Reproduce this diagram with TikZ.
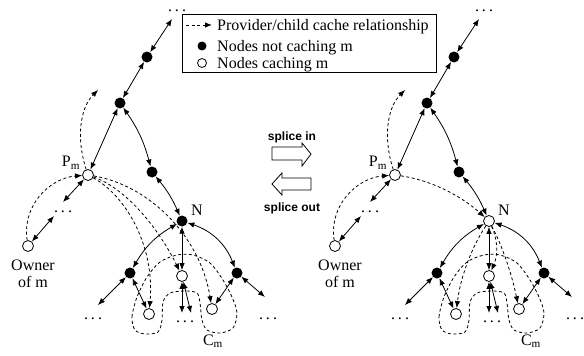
\documentclass[tikz,border=0pt]{standalone}
\usepackage{fontspec}
\setmainfont{Liberation Serif}
\newfontfamily\splicefont{Liberation Sans}
\usetikzlibrary{arrows.meta}

\tikzset{
  busy/.style={circle, fill, inner sep=0pt, minimum size=11pt},
  cached/.style={circle, draw, fill=white, line width=0.8pt, inner sep=0pt, minimum size=11pt},
  link/.style={{Latex[length=7pt,width=5.5pt]}-{Latex[length=7pt,width=5.5pt]}, line width=0.8pt},
  prov/.style={-{Latex[length=7pt,width=5.5pt]}, line width=0.8pt, dash pattern=on 3pt off 2.5pt},
  lbl/.style={font=\fontsize{16}{17}\selectfont, inner sep=0pt},
  dotsnode/.style={lbl, anchor=base},
  splice/.style={font=\fontsize{12}{12}\splicefont\bfseries, inner sep=0pt},
  blockarrow/.style={draw, line width=0.8pt, fill=white},
}
\newcommand\dotrow{.\hspace{3pt}.\hspace{3pt}.}

% #1 prefix of the node names, #2 style of node N
\newcommand\cachetree[2]{%
  \node[dotsnode] at (177,11) {\dotrow};
  \coordinate (#1up) at (172,19);
  \node[busy] (#1a) at (147,57) {};
  \node[busy] (#1b) at (120,103) {};
  \node[cached] (#1p) at (88,175) {};
  \node[busy] (#1c) at (152,172) {};
  \node[#2] (#1n) at (182,221) {};
  \node[busy] (#1l) at (130,273) {};
  \node[cached] (#1m) at (182,276) {};
  \node[busy] (#1r) at (237,273) {};
  \node[cached] (#1lc) at (149,314) {};
  \node[cached] (#1rc) at (212,309) {};
  \node[cached] (#1o) at (28,246) {};
  \node[lbl] at (71,163) {P\textsubscript{m}};
  \node[lbl] at (197,210) {N};
  \node[lbl, align=center] at (33,274) {Owner\\of m};
  % loose ends and the dots after them
  \coordinate (#1pd) at (63,202);
  \coordinate (#1od) at (54,216);
  \coordinate (#1pu) at (98,90);
  \coordinate (#1ld) at (98,305);
  \coordinate (#1rd) at (265,297);
  \coordinate (#1m1) at (182,313);
  \coordinate (#1m2) at (191,313);
  \node[dotsnode] at (63,212) {\dotrow};
  \node[dotsnode] at (93,319) {\dotrow};
  \node[dotsnode] at (185,322) {\dotrow};
  \node[dotsnode] at (268,319) {\dotrow};
  % tree links
  \draw[link] (#1up) -- (#1a);
  \draw[link] (#1a) -- (#1b);
  \draw[link] (#1b) -- (#1p);
  \draw[link] (#1b) to[bend left=10] (#1c);
  \draw[link] (#1c) to[bend left=8] (#1n);
  \draw[link] (#1n) to[bend right=15] (#1l);
  \draw[link] (#1n) -- (#1m);
  \draw[link] (#1n) to[bend left=25] (#1r);
  \draw[link] (#1l) -- (#1ld);
  \draw[link] (#1l) -- (#1lc);
  \draw[link] (#1m) -- (#1m1);
  \draw[link] (#1m) -- (#1m2);
  \draw[link] (#1r) -- (#1rc);
  \draw[link] (#1r) -- (#1rd);
  \draw[link] (#1p) -- (#1pd);
  \draw[link] (#1od) -- (#1o);
  % cache relationships
  \draw[prov] (#1p) .. controls (76,138) and (80,108) .. (#1pu);
  \draw[prov] (#1o) .. controls (22,205) and (50,178) .. (#1p);
  % C_m
  \draw[line width=0.8pt, dash pattern=on 3pt off 2.5pt] plot[smooth cycle] coordinates {
    (135,330) (132,317) (137,297) (147,277) (160,262) (177,255) (193,255)
    (210,263) (223,280) (232,297) (237,313) (233,328) (220,333) (207,330)
    (202,320) (200,303) (197,293) (185,291) (170,293) (163,302) (162,320)
    (158,332) (145,334)};
}

\begin{document}
\begin{tikzpicture}[x=1pt, y=-1pt]
  \useasboundingbox (0,0) rectangle (584,356);

  % before splicing
  \cachetree{l}{busy}
  \draw[prov] (lp) .. controls (125,195) and (155,245) .. (llc);
  \draw[prov] (lp) .. controls (130,190) and (162,235) .. (lm);
  \draw[prov] (lp) .. controls (148,185) and (200,235) .. (lrc);
  \node[lbl] at (213,341) {C\textsubscript{m}};

  % after splicing
  \begin{scope}[xshift=307pt]
    \cachetree{r}{cached}
  \end{scope}
  \draw[prov] (rp) .. controls (430,180) and (460,195) .. (rn);
  \draw[prov] (rn) .. controls (470,250) and (460,280) .. (rlc);
  \draw[prov] (rn) .. controls (498,240) and (498,255) .. (rm);
  \draw[prov] (rn) .. controls (502,245) and (512,275) .. (rrc);
  \node[lbl] at (531,341) {C\textsubscript{m}};

  % splice in / splice out
  \node[splice] at (292,137) {splice in};
  \draw[blockarrow] (272,147) -- (302,147) -- (302,143) -- (311,154)
    -- (302,166) -- (302,160) -- (272,160) -- cycle;
  \draw[blockarrow] (311,178) -- (282,178) -- (282,173) -- (272,184)
    -- (282,195) -- (282,190) -- (311,190) -- cycle;
  \node[splice] at (292,208) {splice out};

  % key
  \draw[line width=0.8pt] (182,14) rectangle (436,72);
  \coordinate (k1) at (186,25);
  \coordinate (k2) at (212,25);
  \draw[prov] (k1) -- (k2);
  \node[busy, minimum size=9pt] at (202,46) {};
  \node[cached, minimum size=9pt] at (202,63) {};
  \node[lbl, anchor=base west] at (217,30.5) {Provider/child cache relationship};
  \node[lbl, anchor=base west] at (217,51) {Nodes not caching m};
  \node[lbl, anchor=base west] at (217,68) {Nodes caching m};
\end{tikzpicture}
\end{document}
